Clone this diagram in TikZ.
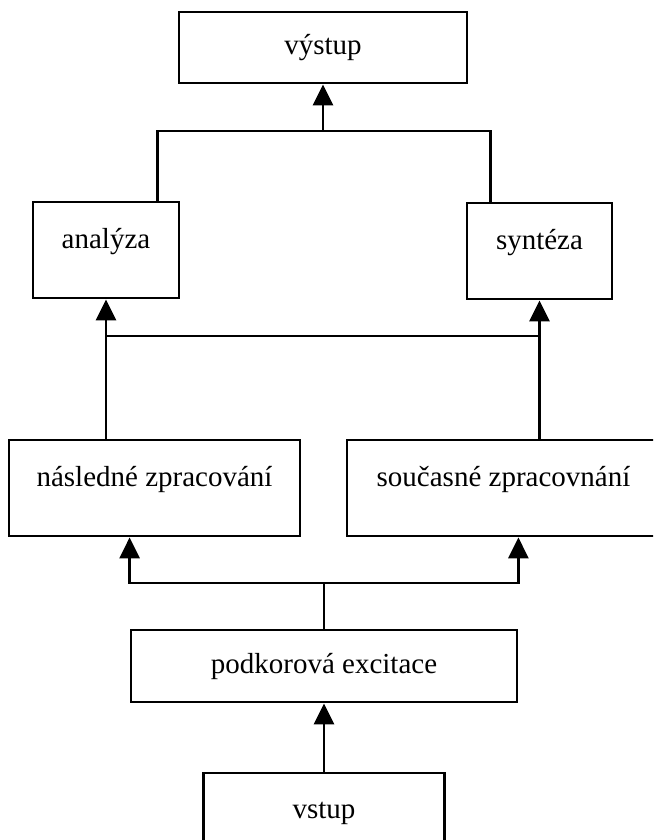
\documentclass[tikz,border=0pt]{standalone}
\usepackage{fontspec}
\setmainfont{Liberation Serif}
\usetikzlibrary{arrows.meta}
\begin{document}
\begin{tikzpicture}[x=1pt,y=-1pt,
  box/.style={draw,line width=2.8pt,inner sep=0pt,font=\fontsize{29}{34}\selectfont,text height=20pt,text depth=6pt},
  tallbox/.style={box,text depth=24pt},
  link/.style={line width=2.8pt},
  arr/.style={link,-{Triangle[length=21pt,width=20pt]}}]
\useasboundingbox (0,0) rectangle (653,840);
\clip (0,0) rectangle (653,840);
\node[box,minimum width=288pt,minimum height=71pt] (out) at (323,47.5) {výstup};
\node[tallbox,minimum width=146pt,minimum height=96pt] (ana) at (106,250) {analýza};
\node[tallbox,minimum width=145pt,minimum height=96pt] (syn) at (539.5,251) {syntéza};
\node[tallbox,minimum width=291pt,minimum height=96pt] (nasl) at (154.5,488) {následné zpracování};
\node[tallbox,minimum width=313pt,minimum height=96pt] (souc) at (503.5,488) {současné zpracovnání};
\node[box,minimum width=386pt,minimum height=72pt] (pod) at (324,666) {podkorová excitace};
\node[box,minimum width=241pt,minimum height=76pt] (vst) at (324,811) {vstup};
\coordinate (j1) at (323,131);
\coordinate (j2) at (323,336);
\coordinate (j3) at (324,583);
\draw[link] ([xshift=-23pt]ana.north east) |- (j1) -| ([xshift=25pt]syn.north west);
\draw[arr] (j1) -- (out.south);
\draw[arr] (nasl.north -| ana.south) -- (ana.south);
\draw[arr] (souc.north -| syn.south) -- (syn.south);
\draw[link] (ana.south |- j2) -- (syn.south |- j2);
\draw[link] (pod.north) -- (j3);
\draw[arr] (j3) -| (pod.north west |- nasl.south);
\draw[arr] (j3) -| (pod.north east |- souc.south);
\draw[arr] (vst.north) -- (pod.south);
\end{tikzpicture}
\end{document}
